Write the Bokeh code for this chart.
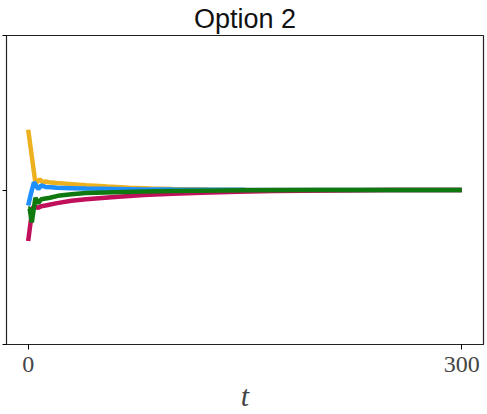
from bokeh.plotting import figure
from bokeh.embed import file_html
from bokeh.resources import INLINE
from bokeh.models import FixedTicker, Range1d, CustomJSTickFormatter

title_text = "Option 2"
x_label = "t"
x_ticks = [0, 300]
y_ticks = [-1, 0, 1]

t_orange = [0, 5, 6, 8, 10, 12, 14, 20, 30, 40, 55, 70, 85, 100, 125, 150, 200, 250, 300]
y_orange = [0.39, 0.045, 0.05, 0.07, 0.05, 0.055, 0.05, 0.045, 0.038, 0.03, 0.022, 0.015, 0.01, 0.007, 0.004, 0.002, 0.0005, 0.0, 0.0]

t_blue = [0, 2, 4, 7, 9, 12, 16, 20, 30, 40, 60, 80, 100, 150, 200, 300]
y_blue = [-0.10, -0.02, 0.05, 0.006, 0.03, 0.02, 0.018, 0.014, 0.012, 0.01, 0.007, 0.004, 0.003, 0.001, 0.0, 0.0]

t_green = [0, 1, 2.5, 5, 7, 9, 12, 15, 22, 30, 40, 60, 80, 100, 150, 200, 300]
y_green = [-0.12, -0.12, -0.21, -0.05, -0.085, -0.06, -0.055, -0.05, -0.035, -0.027, -0.02, -0.014, -0.01, -0.006, -0.002, 0.0, 0.0]

t_magenta = [0, 3, 5, 7, 9, 12, 20, 30, 40, 60, 80, 100, 120, 145, 170, 210, 250, 300]
y_magenta = [-0.33, -0.115, -0.11, -0.115, -0.105, -0.1, -0.085, -0.07, -0.06, -0.045, -0.033, -0.025, -0.018, -0.012, -0.007, -0.003, 0.0, 0.0]

colors = {"orange": "#EDB120", "blue": "#1E8FFF", "magenta": "#C0105C", "green": "#0F780F"}

p = figure(width=487, height=414, output_backend="svg", toolbar_location=None,
           x_range=Range1d(-15, 315), y_range=Range1d(-1, 1),
           min_border_left=6, min_border_right=4, min_border_top=35, min_border_bottom=69)
p.title.text = title_text
p.title.align = "center"
p.title.vertical_align = "top"
p.title.text_font = "Liberation Sans"
p.title.text_font_size = "27px"
p.title.text_font_style = "normal"
p.title.text_color = "#111111"
p.title.standoff = 0

p.xgrid.visible = False
p.ygrid.visible = False
p.outline_line_color = "#222222"
p.outline_line_width = 1.2

xa = p.xaxis[0]
xa.ticker = FixedTicker(ticks=x_ticks)
xa.axis_label = x_label
xa.axis_label_text_font = "Liberation Serif"
xa.axis_label_text_font_style = "italic"
xa.axis_label_text_font_size = "30px"
xa.axis_label_standoff = 4
xa.major_label_text_font = "Liberation Serif"
xa.major_label_text_font_size = "24px"
xa.major_label_standoff = 7
xa.major_tick_out = 5
xa.major_tick_in = 0
xa.minor_tick_out = 0
xa.minor_tick_in = 0
xa.axis_line_color = "#222222"

ya = p.yaxis[0]
ya.ticker = FixedTicker(ticks=y_ticks)
ya.formatter = CustomJSTickFormatter(code="return ''")
ya.major_label_standoff = 0
ya.major_tick_out = 4
ya.major_tick_in = 0
ya.minor_tick_out = 0
ya.minor_tick_in = 0
ya.axis_line_color = "#222222"

lw = 4.5
p.line(t_orange, y_orange, line_color=colors["orange"], line_width=lw)
p.line(t_blue, y_blue, line_color=colors["blue"], line_width=lw)
p.line(t_magenta, y_magenta, line_color=colors["magenta"], line_width=lw)
p.line(t_green, y_green, line_color=colors["green"], line_width=lw)

open("out.html", "w").write(file_html(p, INLINE))
